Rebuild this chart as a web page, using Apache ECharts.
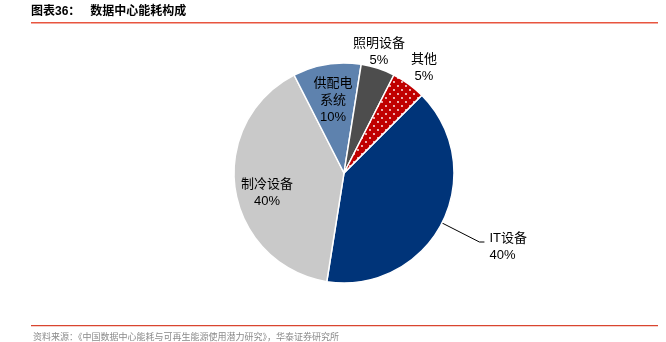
<!DOCTYPE html>
<html><head><meta charset="utf-8">
<script src="https://cdn.jsdelivr.net/npm/echarts@6/dist/echarts.min.js"></script>
<style>html,body{margin:0;padding:0;background:#fff}#c{width:666px;height:342px}</style>
</head><body><div id="c"></div>
<script>
const categories = ['IT设备', '制冷设备', '供配电\n系统', '照明设备', '其他'];
const values = [40, 40, 10, 5, 5];
const titleText = '图表36：   数据中心能耗构成';
const sourceText = '资料来源：《中国数据中心能耗与可再生能源使用潜力研究》，华泰证券研究所';

const FONT = "'Liberation Sans','Noto Sans CJK SC',sans-serif";

// dotted pattern for 其他
const pc = document.createElement('canvas');
pc.width = 8; pc.height = 8;
const g = pc.getContext('2d');
g.fillStyle = '#C00000'; g.fillRect(0, 0, 8, 8);
g.fillStyle = '#ffffff';
g.beginPath(); g.arc(2, 2, 0.9, 0, Math.PI * 2); g.fill();
g.beginPath(); g.arc(6, 6, 0.9, 0, Math.PI * 2); g.fill();

const colors = ['#003479', '#C9C9C9', '#5E82AE', '#4D4D4D', {image: pc, repeat: 'repeat'}];

const labelPos = {1: [267, 193], 2: [333, 100], 3: [379, 52], 4: [424, 68]};

const chart = echarts.init(document.getElementById('c'), null, {renderer: 'canvas'});
chart.setOption({
  animation: false,
  graphic: [
    {type: 'text', left: 31, top: 6, style: {text: titleText, font: "bold 12px 'Liberation Sans','Noto Sans CJK SC',sans-serif", fill: '#000'}},
    {type: 'rect', shape: {x: 31, y: 22, width: 627, height: 1.5}, style: {fill: '#E8553F'}},
    {type: 'rect', shape: {x: 31, y: 325, width: 627, height: 1.2}, style: {fill: '#D9452F'}},
    {type: 'text', left: 33, top: 332, style: {text: sourceText, font: "9px 'Noto Sans CJK SC',sans-serif", fill: '#8a8a8a'}}
  ],
  series: [{
    type: 'pie',
    center: [344, 173],
    radius: [0, 110],
    startAngle: 45,
    clockwise: true,
    avoidLabelOverlap: false,
    itemStyle: {borderColor: '#fff', borderWidth: 1.5},
    label: {
      show: true,
      fontFamily: FONT,
      fontSize: 13,
      color: '#000',
      lineHeight: 17,
      align: 'center',
      formatter: p => p.name + '\n' + p.value + '%'
    },
    labelLine: {show: false},
    labelLayout: function (p) {
      const pos = labelPos[p.dataIndex];
      if (pos) return {x: pos[0], y: pos[1], align: 'center', verticalAlign: 'middle'};
      return {};
    },
    data: categories.map((c, i) => {
      const d = {name: c, value: values[i], itemStyle: {color: colors[i]}};
      if (i === 0) {
        d.label = {
          position: 'outside', align: 'center',
          formatter: p => '{s| }\n{a|' + p.name + '}\n{a|' + p.value + '%}',
          rich: {
            s: {fontSize: 1, lineHeight: 9},
            a: {fontFamily: FONT, fontSize: 13, lineHeight: 17, color: '#000'}
          }
        };
        d.labelLine = {show: true, length: 42, length2: 5, lineStyle: {color: '#000', width: 1}};
      } else {
        d.label = {position: 'inside'};
      }
      return d;
    })
  }]
});
</script>
</body></html>
